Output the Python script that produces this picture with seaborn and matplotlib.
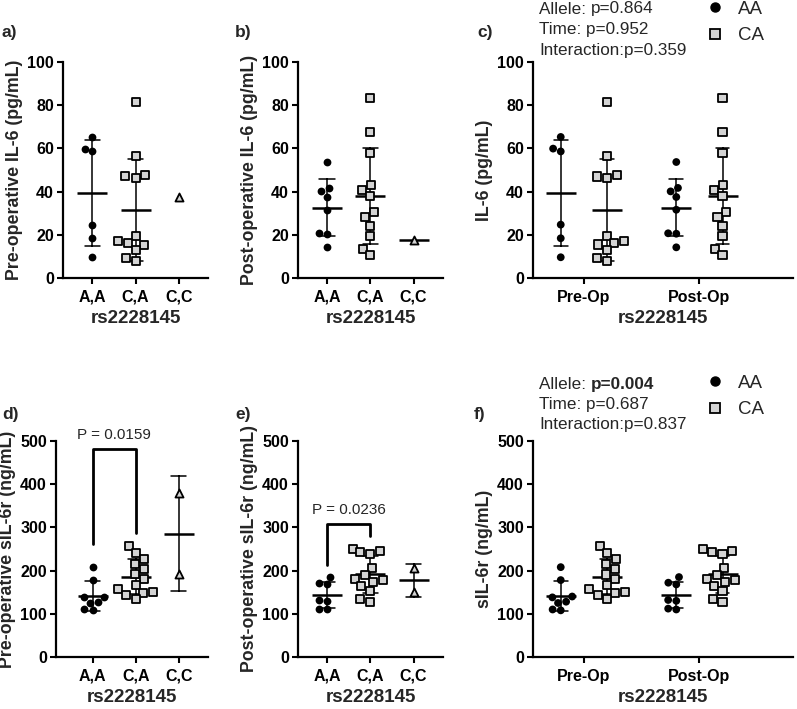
import matplotlib
matplotlib.use("Agg")
import matplotlib.pyplot as plt
from matplotlib.lines import Line2D
import pandas as pd
import seaborn as sns

W, H = 797, 709

genotypes = ["A,A", "C,A", "C,C"]
times = ["Pre-Op", "Post-Op"]
alleles = ["AA", "CA"]

# IL-6 (pg/mL)
il6_pre_AA = [65.3, 59.9, 58.6, 24.7, 18.4, 9.6]
il6_pre_CA = [81.7, 56.3, 47.6, 47.0, 46.4, 19.3, 17.3, 16.2, 15.5, 13.0, 9.3, 8.0]
il6_pre_CC = [37.7]
il6_post_AA = [53.7, 41.7, 40.1, 37.5, 31.6, 20.7, 20.5, 14.2]
il6_post_CA = [83.5, 67.6, 57.9, 42.9, 40.6, 38.0, 30.6, 28.1, 24.1, 19.3, 13.6, 10.5]
il6_post_CC = [17.4]

# sIL-6r (ng/mL)
sil6r_pre_AA = [208, 178, 140, 138, 128, 125, 110, 108]
sil6r_pre_CA = [258, 241, 226, 216, 203, 191, 180, 166, 158, 150, 149, 144, 134]
sil6r_pre_CC = [380, 191]
sil6r_post_AA = [185, 172, 168, 132, 130, 112, 110]
sil6r_post_CA = [250, 246, 242, 238, 207, 189, 181, 178, 174, 164, 152, 135, 128]
sil6r_post_CC = [205, 150]

il6_stats = ["Allele: ", "p=0.864", "Time: p=0.952", "Interaction:p=0.359"]
sil6r_stats = ["Allele: ", "p=0.004", "Time: p=0.687", "Interaction:p=0.837"]

GREY = "#d4d4d4"
FONT = ["Liberation Sans", "DejaVu Sans"]

sns.set_theme(style="ticks")
plt.rcParams["font.family"] = FONT
plt.rcParams["axes.linewidth"] = 1.6

fig = plt.figure(figsize=(W / 100, H / 100), dpi=100)


def fx(px):
    return px / W


def fy(py):
    return 1 - py / H


def add_ax(left, top, right, bottom):
    return fig.add_axes([fx(left), fy(bottom), (right - left) / W, (bottom - top) / H])


def geno_frame(aa, ca, cc):
    rows = []
    for g, vals in zip(genotypes, [aa, ca, cc]):
        for v in vals:
            rows.append({"geno": g, "val": v})
    return pd.DataFrame(rows)


def time_frame(pre_aa, pre_ca, post_aa, post_ca):
    rows = []
    for t, al, vals in [("Pre-Op", "AA", pre_aa), ("Pre-Op", "CA", pre_ca),
                        ("Post-Op", "AA", post_aa), ("Post-Op", "CA", post_ca)]:
        for v in vals:
            rows.append({"time": t, "allele": al, "val": v})
    return pd.DataFrame(rows)


def style(ax, ymax, ystep, ylabel, xlim):
    sns.despine(ax=ax)
    ax.set_ylim(0, ymax)
    ax.set_yticks(range(0, ymax + 1, ystep))
    ax.set_xlim(*xlim)
    ax.tick_params(direction="out", length=4, width=1.5, labelsize=11.5, colors="black", pad=2.5)
    ax.tick_params(axis="x", pad=4.5)
    for lab in ax.get_xticklabels() + ax.get_yticklabels():
        lab.set_fontweight("bold")
    ax.set_ylabel(ylabel, fontsize=12.8, fontweight="bold", labelpad=3)
    ax.set_xlabel("rs2228145", fontsize=13.5, fontweight="bold", labelpad=4)
    for sp in ax.spines.values():
        sp.set_color("black")


def geno_panel(ax, aa, ca, cc, ymax, ystep, ylabel, xlim, cc_mean=True):
    df = geno_frame(aa, ca, cc)
    for g, mk, fc, lw, sz in zip(genotypes, ["o", "s", "^"], ["black", GREY, GREY],
                                 [0, 1.3, 1.3], [5.6, 5.8, 5.8]):
        sns.swarmplot(data=df[df.geno == g], x="geno", y="val", order=genotypes,
                      marker=mk, color=fc, edgecolor="black", linewidth=lw,
                      size=sz, ax=ax, zorder=3)
    mdf = df if cc_mean else df[df.geno != "C,C"]
    sns.pointplot(data=mdf, x="geno", y="val", order=genotypes, errorbar="sd",
                  capsize=0.35, linestyle="none", marker="_", markersize=22,
                  markeredgewidth=1.8, color="black", err_kws={"linewidth": 1.1}, ax=ax)
    style(ax, ymax, ystep, ylabel, xlim)


def time_panel(ax, df, ymax, ystep, ylabel):
    pal = {"AA": "black", "CA": GREY}
    for al, mk, lw, sz in zip(alleles, ["o", "s"], [0, 1.3], [5.6, 5.8]):
        sns.swarmplot(data=df[df.allele == al], x="time", y="val", hue="allele",
                      order=times, hue_order=alleles, palette=pal, dodge=True,
                      marker=mk, edgecolor="black", linewidth=lw, size=sz,
                      legend=False, ax=ax, zorder=3)
    sns.pointplot(data=df, x="time", y="val", hue="allele", order=times,
                  hue_order=alleles, palette={"AA": "black", "CA": "black"},
                  dodge=0.4, errorbar="sd", capsize=0.12, linestyle="none",
                  marker="_", markersize=22, markeredgewidth=1.8,
                  err_kws={"linewidth": 1.1}, legend=False, ax=ax)
    style(ax, ymax, ystep, ylabel, (-0.44, 1.81))


def stats_text(stats, top):
    renderer = fig.canvas.get_renderer()
    t = fig.text(fx(539), fy(top), stats[0], fontsize=12.3, va="center", ha="left")
    bb = t.get_window_extent(renderer=renderer)
    bold = stats[1] == "p=0.004"
    fig.text(bb.x1 / W, fy(top), stats[1], fontsize=12.3, va="center", ha="left",
             fontweight="bold" if bold else "normal")
    fig.text(fx(539), fy(top + 20.5), stats[2], fontsize=12.3, va="center", ha="left")
    fig.text(fx(539), fy(top + 41), stats[3], fontsize=12.3, va="center", ha="left")


def legend(center):
    handles = [Line2D([], [], marker="o", linestyle="none", color="black", markersize=6.5),
               Line2D([], [], marker="s", linestyle="none", markerfacecolor=GREY,
                      markeredgecolor="black", markeredgewidth=1.3, markersize=6.5)]
    fig.legend(handles, alleles, loc="upper left", bbox_to_anchor=(fx(704), fy(center - 9.5)),
               frameon=False, fontsize=13.5, handlelength=1.2, handletextpad=0.6,
               labelspacing=0.52, borderaxespad=0, borderpad=0)


# top row: IL-6
ax_a = add_ax(63, 62, 208, 278)
geno_panel(ax_a, il6_pre_AA, il6_pre_CA, il6_pre_CC, 100, 20,
           "Pre-operative IL-6 (pg/mL)", (-0.68, 2.68), cc_mean=False)
ax_b = add_ax(298, 62, 443, 278)
geno_panel(ax_b, il6_post_AA, il6_post_CA, il6_post_CC, 100, 20,
           "Post-operative IL-6 (pg/mL)", (-0.67, 2.68))
ax_c = add_ax(533, 62, 793, 278)
time_panel(ax_c, time_frame(il6_pre_AA, il6_pre_CA, il6_post_AA, il6_post_CA),
           100, 20, "IL-6 (pg/mL)")

# bottom row: sIL-6r
ax_d = add_ax(56, 441, 208, 657)
geno_panel(ax_d, sil6r_pre_AA, sil6r_pre_CA, sil6r_pre_CC, 500, 100,
           "Pre-operative sIL-6r (ng/mL)", (-0.85, 2.68))
ax_e = add_ax(298, 441, 443, 657)
geno_panel(ax_e, sil6r_post_AA, sil6r_post_CA, sil6r_post_CC, 500, 100,
           "Post-operative sIL-6r (ng/mL)", (-0.67, 2.68))
ax_f = add_ax(533, 441, 793, 657)
time_panel(ax_f, time_frame(sil6r_pre_AA, sil6r_pre_CA, sil6r_post_AA, sil6r_post_CA),
           500, 100, "sIL-6r (ng/mL)")

# significance brackets
ax_d.plot([0, 0, 1, 1], [262, 482, 482, 286], color="black", lw=2, clip_on=False)
ax_d.text(0.5, 514, "P = 0.0159", ha="center", va="center", fontsize=11)
ax_e.plot([0, 0, 1, 1], [212, 307, 307, 279], color="black", lw=2, clip_on=False)
ax_e.text(0.5, 341, "P = 0.0236", ha="center", va="center", fontsize=11)

# panel letters
for lbl, x, y in [("a)", 2, 33), ("b)", 235, 33), ("c)", 477, 33),
                  ("d)", 2, 415), ("e)", 235, 415), ("f)", 474, 415)]:
    fig.text(fx(x), fy(y), lbl, fontsize=12.5, fontweight="bold", va="center", ha="left")

stats_text(il6_stats, 9)
stats_text(sil6r_stats, 384)
legend(10)
legend(384)

fig.savefig("out.png", dpi=100)
